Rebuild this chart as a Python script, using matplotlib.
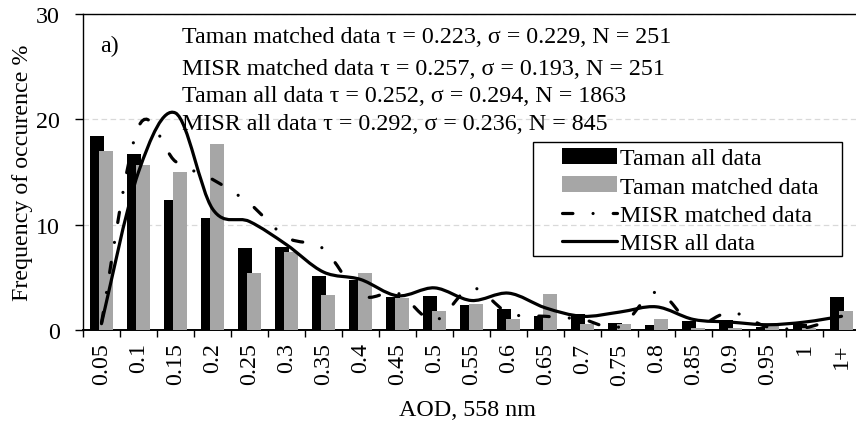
import numpy as np
import matplotlib
matplotlib.use("Agg")
import matplotlib.pyplot as plt
from matplotlib.path import Path
from matplotlib.patches import PathPatch, Rectangle
from matplotlib.lines import Line2D

plt.rcParams['font.family'] = ['Liberation Serif', 'DejaVu Serif']
plt.rcParams['lines.scale_dashes'] = False

categories = ['0.05', '0.1', '0.15', '0.2', '0.25', '0.3', '0.35', '0.4', '0.45', '0.5',
              '0.55', '0.6', '0.65', '0.7', '0.75', '0.8', '0.85', '0.9', '0.95', '1', '1+']
taman_all = [18.4, 16.7, 12.3, 10.6, 7.8, 7.9, 5.1, 4.7, 3.1, 3.25, 2.4, 2.0, 1.3, 1.5,
             0.7, 0.5, 0.9, 0.95, 0.3, 0.6, 3.1]
taman_matched = [17.0, 15.7, 15.0, 17.7, 5.4, 7.4, 3.35, 5.4, 3.0, 1.8, 2.45, 1.0, 3.4, 0.6,
                 0.6, 1.0, 0.2, 0.2, 0.4, 0.2, 1.8]
misr_matched = [0.7, 19.3, 16.0, 14.3, 12.0, 8.8, 7.7, 3.3, 3.5, 0.9, 4.0, 1.6, 1.3, 1.0,
                0.3, 3.6, 0.5, 1.7, 0.3, 0.2, 1.3]
misr_all = [0.6, 15.0, 20.6, 11.5, 10.3, 8.1, 5.5, 4.8, 3.25, 4.0, 2.8, 3.5, 2.1, 1.3,
            1.7, 2.2, 1.0, 0.75, 0.5, 0.75, 1.3]
stats_lines = ['Taman matched data \u03c4 = 0.223, \u03c3 = 0.229, N = 251',
               'MISR matched data \u03c4 = 0.257, \u03c3 = 0.193, N = 251',
               'Taman all data \u03c4 = 0.252, \u03c3 = 0.294, N = 1863',
               'MISR all data \u03c4 = 0.292, \u03c3 = 0.236, N = 845']

W, H = 856, 427
FS = 17.3
fig = plt.figure(figsize=(W / 100, H / 100), dpi=100)
ax = fig.add_axes([83 / W, (H - 331) / H, 777 / W, 316 / H])

x = np.arange(len(categories))
bw = 0.38
b1 = ax.bar(x - 0.115, taman_all, width=bw, color='black', zorder=2, label='Taman all data')
b2 = ax.bar(x + 0.115, taman_matched, width=bw, color='#a6a6a6', zorder=3, label='Taman matched data')


def smooth_path(xs, ys):
    pts = np.column_stack([xs, ys]).astype(float)
    n = len(pts)
    verts = [pts[0]]
    codes = [Path.MOVETO]
    for i in range(n - 1):
        p0 = pts[max(i - 1, 0)]
        p1 = pts[i]
        p2 = pts[i + 1]
        p3 = pts[min(i + 2, n - 1)]
        c1 = p1 + (p2 - p0) / 6.0
        c2 = p2 - (p3 - p1) / 6.0
        verts += [c1, c2, p2]
        codes += [Path.CURVE4] * 3
    return Path(np.array(verts), codes)


LW = 2.3
dashdot = (0, (7.5, 14.5, 0.01, 14.5))
p_matched = PathPatch(smooth_path(x, misr_matched), fill=False, edgecolor='black',
                      linewidth=LW, linestyle=dashdot, capstyle='round', zorder=4)
p_all = PathPatch(smooth_path(x, misr_all), fill=False, edgecolor='black',
                  linewidth=LW, capstyle='round', zorder=5)
ax.add_patch(p_matched)
ax.add_patch(p_all)

ax.set_xlim(-0.5, len(categories) - 0.5)
ax.set_ylim(0, 30)
ax.set_yticks([0, 10, 20, 30])
ax.tick_params(axis='y', direction='out', length=6, width=1, pad=10.5, labelsize=FS)
ax.set_xticks(x)
ax.set_xticklabels(categories, rotation=90, fontsize=FS)
ax.tick_params(axis='x', which='major', length=0, pad=9)
ax.set_xticks(np.arange(len(categories) + 1) - 0.5, minor=True)
ax.tick_params(axis='x', which='minor', direction='out', length=5, width=1)

ax.yaxis.grid(True, color='#d9d9d9', linestyle=(0, (4, 2.5)), linewidth=0.9, zorder=0)
ax.set_axisbelow(True)
for s in ['left', 'top']:
    ax.spines[s].set_linewidth(1.0)
ax.spines['bottom'].set_linewidth(1.4)
ax.spines['right'].set_visible(False)

ax.set_ylabel('Frequency of occurence %', fontsize=FS)
ax.yaxis.set_label_coords((33 - 83) / 777, 0.5)
ax.set_xlabel('AOD, 558 nm', fontsize=FS)
ax.xaxis.set_label_coords((467 - 83) / 777, (331 - 400) / 316)

ax.text((100 - 83) / 777, (331 - 52) / 316, 'a)', transform=ax.transAxes,
        fontsize=FS, va='baseline', ha='left')
for txt, yb in zip(stats_lines, [43, 75, 102, 130]):
    ax.text((182 - 83) / 777, (331 - yb) / 316, txt, transform=ax.transAxes,
            fontsize=FS, va='baseline', ha='left')

h3 = Line2D([], [], color='black', linewidth=LW, linestyle=dashdot,
            dash_capstyle='round', solid_capstyle='round')
h4 = Line2D([], [], color='black', linewidth=LW, solid_capstyle='round')
leg = ax.legend([b1, b2, h3, h4],
                ['Taman all data', 'Taman matched data', 'MISR matched data', 'MISR all data'],
                loc='upper left', bbox_to_anchor=(562 / W, 1 - 149 / H),
                bbox_transform=fig.transFigure, frameon=False, fontsize=FS,
                borderpad=0, borderaxespad=0, labelspacing=0.29, handlelength=2.3,
                handletextpad=0.13, handleheight=0.64)
leg.set_zorder(10)
fig.add_artist(Rectangle((533 / W, 1 - 257 / H), 309 / W, 114 / H, transform=fig.transFigure,
                         fill=False, edgecolor='black', linewidth=1.0, zorder=11))

fig.savefig('out.png', dpi=100)
